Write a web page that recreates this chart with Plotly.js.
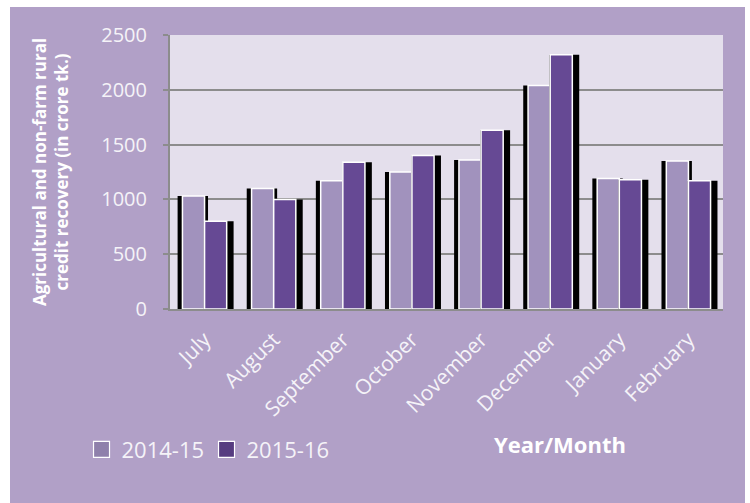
<!DOCTYPE html>
<html>
<head>
<meta charset="utf-8">
<script src="https://cdn.plot.ly/plotly-3.0.1.min.js"></script>
<style>
  html, body { margin: 0; padding: 0; background: #ffffff; width: 750px; height: 503px; overflow: hidden; }
  #chart { position: absolute; left: 10px; top: 7px; width: 735px; height: 496px; }
</style>
</head>
<body>
<div id="chart"></div>
<script>
const months = ["July", "August", "September", "October", "November", "December", "January", "February"];
const series2014 = [1030, 1100, 1170, 1250, 1360, 2040, 1190, 1350];
const series2015 = [800, 1000, 1340, 1400, 1630, 2320, 1180, 1170];
const seriesNames = ["2014-15", "2015-16"];
const seriesColors = ["#a192bd", "#664994"];
const legendColors = ["#8f80ab", "#563c80"];
const yTicks = [0, 500, 1000, 1500, 2000, 2500];

const xIdx = months.map((m, i) => i);
const barW = 0.32;
const fontFam = "'Open Sans', 'Noto Sans', sans-serif";

function shadow(vals, off, w) {
  return {
    type: "bar", x: xIdx, y: vals, width: w, offset: off,
    marker: { color: "#000000", line: { width: 0 } },
    showlegend: false, hoverinfo: "skip"
  };
}
function bars(vals, off, color, name) {
  return {
    type: "bar", name: name, x: xIdx, y: vals, width: barW, offset: off,
    marker: { color: color, line: { color: "#ffffff", width: 1.5 } },
    showlegend: false, hoverinfo: "x+y"
  };
}
function legendKey(color, name) {
  return {
    type: "scatter", mode: "markers", name: name, x: [null], y: [null],
    marker: { symbol: "square", size: 18, color: color, line: { color: "#ffffff", width: 1.2 } },
    showlegend: true, hoverinfo: "skip"
  };
}

const data = [
  shadow(series2014, -barW - 0.07, barW + 0.12),
  bars(series2014, -barW, seriesColors[0], seriesNames[0]),
  shadow(series2015, -0.01, barW + 0.11),
  bars(series2015, 0, seriesColors[1], seriesNames[1]),
  legendKey(legendColors[0], seriesNames[0]),
  legendKey(legendColors[1], seriesNames[1])
];

const layout = {
  width: 735, height: 496,
  margin: { l: 160, r: 22, t: 28, b: 194 },
  paper_bgcolor: "#b1a0c7",
  plot_bgcolor: "#e4dfec",
  barmode: "overlay",
  font: { family: fontFam, color: "#f5f3f8", size: 18 },
  xaxis: {
    tickmode: "array", tickvals: xIdx, ticktext: months,
    range: [-0.5, 7.5], tickangle: -45,
    showgrid: false, zeroline: false,
    showline: true, linecolor: "#8c8c8c", linewidth: 2,
    ticks: "", ticklabelstandoff: 8, tickfont: { size: 21, color: "#f5f3f8" }
  },
  yaxis: {
    range: [0, 2500], tickmode: "array", tickvals: yTicks,
    showgrid: true, gridcolor: "#8c8c8c", gridwidth: 2,
    zeroline: false, showline: true, linecolor: "#8c8c8c", linewidth: 2,
    ticks: "outside", ticklen: 5, tickcolor: "#8c8c8c", tickwidth: 2,
    ticklabelstandoff: 12,
    tickfont: { size: 20, color: "#f5f3f8" },
    title: {
      text: "<b>Agricultural and non-farm rural<br>credit recovery (in crore tk.)</b>",
      font: { size: 17, color: "#ffffff" }, standoff: 28
    }
  },
  legend: {
    orientation: "h", x: -0.16, xanchor: "left", y: -0.513, yanchor: "middle",
    font: { size: 22, color: "#f5f3f8" }, bgcolor: "rgba(0,0,0,0)",
    itemwidth: 30, entrywidth: 80, entrywidthmode: "pixels", tracegroupgap: 0
  },
  annotations: [{
    text: "<b>Year/Month</b>", xref: "paper", yref: "paper",
    x: 0.705, y: -0.493, xanchor: "center", yanchor: "middle",
    showarrow: false, font: { size: 22, color: "#ffffff" }
  }]
};

Plotly.newPlot("chart", data, layout, { displayModeBar: false, staticPlot: true });
</script>
</body>
</html>
